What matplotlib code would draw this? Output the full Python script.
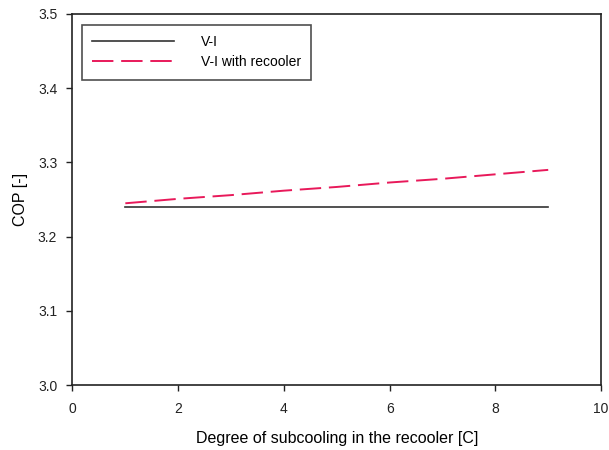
import matplotlib
matplotlib.use("Agg")
import matplotlib.pyplot as plt

x = [1, 2, 3, 4, 5, 6, 7, 8, 9]
cop_vi = [3.24, 3.24, 3.24, 3.24, 3.24, 3.24, 3.24, 3.24, 3.24]
cop_recooler = [3.245, 3.251, 3.256, 3.262, 3.267, 3.273, 3.278, 3.284, 3.290]

plt.rcParams['font.family'] = ['Liberation Sans', 'DejaVu Sans']

fig = plt.figure(figsize=(6.09, 4.5), dpi=100)
ax = fig.add_axes([0.119, 0.144, 0.868, 0.825])
ax.plot(x, cop_vi, color='#333333', lw=1.2, label='V-I')
ax.plot(x, cop_recooler, color='#e8195a', lw=1.4, dashes=(11, 4), label='V-I with recooler')
ax.set_xlim(0, 10)
ax.set_ylim(3.0, 3.5)
ax.set_xticks([0, 2, 4, 6, 8, 10])
ax.set_yticks([3.0, 3.1, 3.2, 3.3, 3.4, 3.5])
ax.set_yticklabels(['3.0', '3.1', '3.2', '3.3', '3.4', '3.5'])
ax.tick_params(direction='out', length=4, width=1, labelsize=10, colors='#222222')
ax.tick_params(axis='x', pad=8)
ax.tick_params(axis='y', pad=7)
for s in ax.spines.values():
    s.set_linewidth(1.2)
    s.set_color('#222222')
ax.set_xlabel('Degree of subcooling in the recooler [C]', fontsize=11.5, labelpad=11)
ax.set_ylabel('COP [-]', fontsize=11.5, labelpad=7)
leg = ax.legend(loc='upper left', fontsize=10, frameon=True, fancybox=False,
                edgecolor='#222222', handlelength=5.9, handletextpad=1.9,
                borderpad=0.75, labelspacing=0.45, bbox_to_anchor=(0.005, 0.99))
leg.get_frame().set_linewidth(1.2)
fig.savefig('out.png', dpi=100)
